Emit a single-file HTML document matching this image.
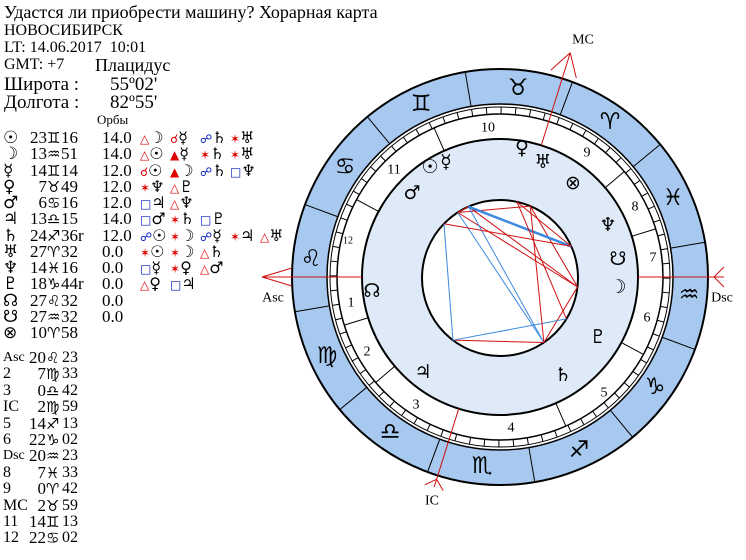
<!DOCTYPE html>
<html><head><meta charset="utf-8"><style>
body{margin:0;width:746px;height:560px;background:#fff;overflow:hidden;position:relative;font-family:"Liberation Serif","DejaVu Serif",serif;color:#000}
.t{position:absolute;white-space:nowrap;line-height:1}
.g{font-family:"DejaVu Sans",sans-serif}
.r{color:#e00000}.b{color:#0018c0}
.row{position:absolute;left:0;height:16px;font-size:16px;white-space:nowrap;line-height:16px}
.row span{position:absolute}
</style></head><body>
<div class="t" style="left:4px;top:3px;font-size:18px">Удастся ли приобрести машину? Хорарная карта</div>
<div class="t" style="left:4px;top:23px;font-size:16px">НОВОСИБИРСК</div>
<div class="t" style="left:4px;top:40px;font-size:16px">LT: 14.06.2017&nbsp; 10:01</div>
<div class="t" style="left:4px;top:57px;font-size:16px">GMT: +7</div>
<div class="t" style="left:95px;top:56px;font-size:18px">Плацидус</div>
<div class="t" style="left:4px;top:75px;font-size:19px">Широта :</div>
<div class="t" style="left:110px;top:75px;font-size:19px">55º02'</div>
<div class="t" style="left:4px;top:93px;font-size:19px">Долгота :</div>
<div class="t" style="left:110px;top:93px;font-size:19px">82º55'</div>
<div class="t" style="left:97px;top:113px;font-size:13px">Орбы</div>

<div id="tbl"></div>

<svg width="746" height="560" style="position:absolute;left:0;top:0" id="svg">
<g id="geo"></g>
<g font-family="DejaVu Sans, sans-serif" font-size="23" text-anchor="middle" dominant-baseline="central">
<text x="610" y="122">♈︎</text><text x="518" y="88">♉︎</text><text x="421" y="104">♊︎</text>
<text x="345" y="167">♋︎</text><text x="311" y="259">♌︎</text><text x="327" y="356">♍︎</text>
<text x="390" y="432">♎︎</text><text x="482" y="466">♏︎</text><text x="579" y="450">♐︎</text>
<text x="655" y="387">♑︎</text><text x="689" y="295">♒︎</text><text x="673" y="198">♓︎</text>
</g>
<g font-family="DejaVu Sans, sans-serif" font-size="19" text-anchor="middle" dominant-baseline="central">
<text x="430" y="167">☉</text><text x="446" y="162">☿</text><text x="412" y="193">♂</text>
<text x="522" y="148">♀</text><text x="543" y="162">♅</text><text x="573" y="183">⊗</text>
<text x="608" y="225">♆</text><text x="618" y="259">☋</text><text x="618" y="287">☽</text>
<text x="598" y="337">♇</text><text x="563" y="375">♄</text><text x="423" y="372">♃</text>
<text x="372" y="291">☊</text>
</g>
<g font-family="Liberation Serif, serif" font-size="14" text-anchor="middle" dominant-baseline="central">
<text x="488" y="128">10</text><text x="394" y="170">11</text><text x="348" y="241" font-size="10">12</text>
<text x="351" y="303">1</text><text x="367" y="352">2</text><text x="416" y="405">3</text>
<text x="511" y="428">4</text><text x="604" y="393">5</text><text x="647" y="318">6</text>
<text x="653" y="258">7</text><text x="635" y="207">8</text><text x="587" y="153">9</text>
<text x="583" y="40" font-size="14">MC</text><text x="273" y="298">Asc</text>
<text x="722" y="298">Dsc</text><text x="432" y="501">IC</text>
</g>
</svg>
<script>
var cx=500,cy=277,NS="http://www.w3.org/2000/svg",g=document.getElementById('geo');
function el(n,a){var e=document.createElementNS(NS,n);for(var k in a)e.setAttribute(k,a[k]);g.appendChild(e);return e}
function P(r,t){t=t*Math.PI/180;return [cx+r*Math.cos(t),cy-r*Math.sin(t)]}
function L(r1,r2,t,c,w){var a=P(r1,t),b=P(r2,t);el('line',{x1:a[0],y1:a[1],x2:b[0],y2:b[1],stroke:c||'#000','stroke-width':w||1})}
var off=39.62;
el('circle',{cx:cx,cy:cy,r:208,fill:'#a7c8ef',stroke:'#000','stroke-width':2});
el('circle',{cx:cx,cy:cy,r:173,fill:'#fff',stroke:'#000','stroke-width':1.5});
el('circle',{cx:cx,cy:cy,r:170,fill:'#fff',stroke:'#000','stroke-width':1});
el('circle',{cx:cx,cy:cy,r:163,fill:'#fff',stroke:'#000','stroke-width':1.5});
el('circle',{cx:cx,cy:cy,r:138,fill:'#dfeaf8',stroke:'#000','stroke-width':2});
el('circle',{cx:cx,cy:cy+1,r:78,fill:'#fff',stroke:'#000','stroke-width':2});
for(var k=0;k<12;k++)L(173,208,off+30*k);
for(var d=0;d<360;d+=5)L(163,170,off+d);
var H=[157.55,180.7,254.22,292.03,337.55,0.7,74.22,112.03];
H.forEach(function(h){L(138,163,h+off)});
var red='#d01010';
function ln(a,b,c,w){el('line',{x1:a[0],y1:a[1],x2:b[0],y2:b[1],stroke:c,'stroke-width':w||1})}
ln([362,277],[262,277],red);ln([262,277],[292,268],red);ln([262,277],[292,286],red);
ln([638,277],[724,277],red);ln([714,277],[724,267],red);ln([714,277],[724,287],red);
var mc=72.6;ln(P(138,mc),P(235,mc),red);ln(P(235,mc),P(213,mc+3.6),red);ln(P(235,mc),P(213,mc-3.6),red);
var ic=252.6;ln(P(138,ic),P(220,ic),red);ln(P(212,ic),P(221,ic+2.5),red);ln(P(212,ic),P(221,ic-2.5),red);
var pl={Su:83.27,Mo:313.85,Me:74.23,Ve:37.82,Ma:96.27,Ju:193.25,Sa:264.6,Ur:27.53,Ne:344.27,Pl:288.73};
var A=[['Su','Mo','r'],['Su','Me','r'],['Su','Sa','b'],['Su','Ur','r'],['Mo','Me','r'],['Mo','Sa','r'],['Mo','Ur','r'],
['Me','Sa','b'],['Me','Ne','B'],['Ve','Ne','r'],['Ve','Pl','r'],['Ma','Ju','b'],['Ma','Ne','r'],['Ju','Sa','r'],['Ju','Pl','b'],['Sa','Ur','r']];
function Q(n){var t=(pl[n]+off)*Math.PI/180;return [cx+78*Math.cos(t),cy+1-78*Math.sin(t)]}
A.forEach(function(a){var c=a[2]=='r'?red:'#3c8ae0';ln(Q(a[0]),Q(a[1]),c,a[2]=='B'?2.5:1)});
var rows=[
['☉','23','♊','16','14.0',[['r','△','☽'],['r','☌','☿'],['b','☍','♄'],['r','✶','♅']]],
['☽','13','♒','51','14.0',[['r','△','☉'],['r','▲','☿'],['r','✶','♄'],['r','✶','♅']]],
['☿','14','♊','14','12.0',[['r','☌','☉'],['r','▲','☽'],['b','☍','♄'],['b','□','♆']]],
['♀','7','♉','49','12.0',[['r','✶','♆'],['r','△','♇']]],
['♂','6','♋','16','12.0',[['b','□','♃'],['r','△','♆']]],
['♃','13','♎','15','14.0',[['b','□','♂'],['r','✶','♄'],['b','□','♇']]],
['♄','24','♐','36r','12.0',[['b','☍','☉'],['r','✶','☽'],['b','☍','☿'],['r','✶','♃'],['r','△','♅']]],
['♅','27','♈','32','0.0',[['r','✶','☉'],['r','✶','☽'],['r','△','♄']]],
['♆','14','♓','16','0.0',[['b','□','☿'],['r','✶','♀'],['r','△','♂']]],
['♇','18','♑','44r','0.0',[['r','△','♀'],['b','□','♃']]],
['☊','27','♌','32','0.0',[]],
['☋','27','♒','32','0.0',[]],
['⊗','10','♈','58','',[]]];
var h='';
rows.forEach(function(r,i){var y=130+i*16.25;
h+='<div class="row" style="top:'+y+'px"><span class="g" style="left:3px;font-size:17px">'+r[0]+'</span>'+
'<span style="left:20px;width:27px;text-align:right;font-size:17px">'+r[1]+'</span><span class="g" style="left:47px;font-size:15px">'+r[2]+'</span>'+
'<span style="left:61px;font-size:17px">'+r[3]+'</span><span style="left:102px;font-size:17px">'+r[4]+'</span>';
r[5].forEach(function(a,j){h+='<span class="g" style="left:'+(140+30*j)+'px;font-size:16px"><span class="'+a[0]+'" style="position:static;font-size:12px">'+a[1]+'</span>'+a[2]+'</span>'});
h+='</div>'});
var hs=[['Asc','20','♌','23'],['2','7','♍','33'],['3','0','♎','42'],['IC','2','♍','59'],['5','14','♐','13'],['6','22','♑','02'],
['Dsc','20','♒','23'],['8','7','♓','33'],['9','0','♈','42'],['MC','2','♉','59'],['11','14','♊','13'],['12','22','♋','02']];
hs.forEach(function(r,i){var y=350+i*16.4;
h+='<div class="row" style="top:'+y+'px"><span style="left:3px;font-size:'+(r[0].length>2?14:16)+'px">'+r[0]+'</span><span style="left:20px;width:26px;text-align:right;font-size:17px">'+r[1]+'</span><span class="g" style="left:46px;font-size:15px">'+r[2]+'</span><span style="left:62px;font-size:16px">'+r[3]+'</span></div>'});
document.getElementById('tbl').innerHTML=h;
</script>
</body></html>
